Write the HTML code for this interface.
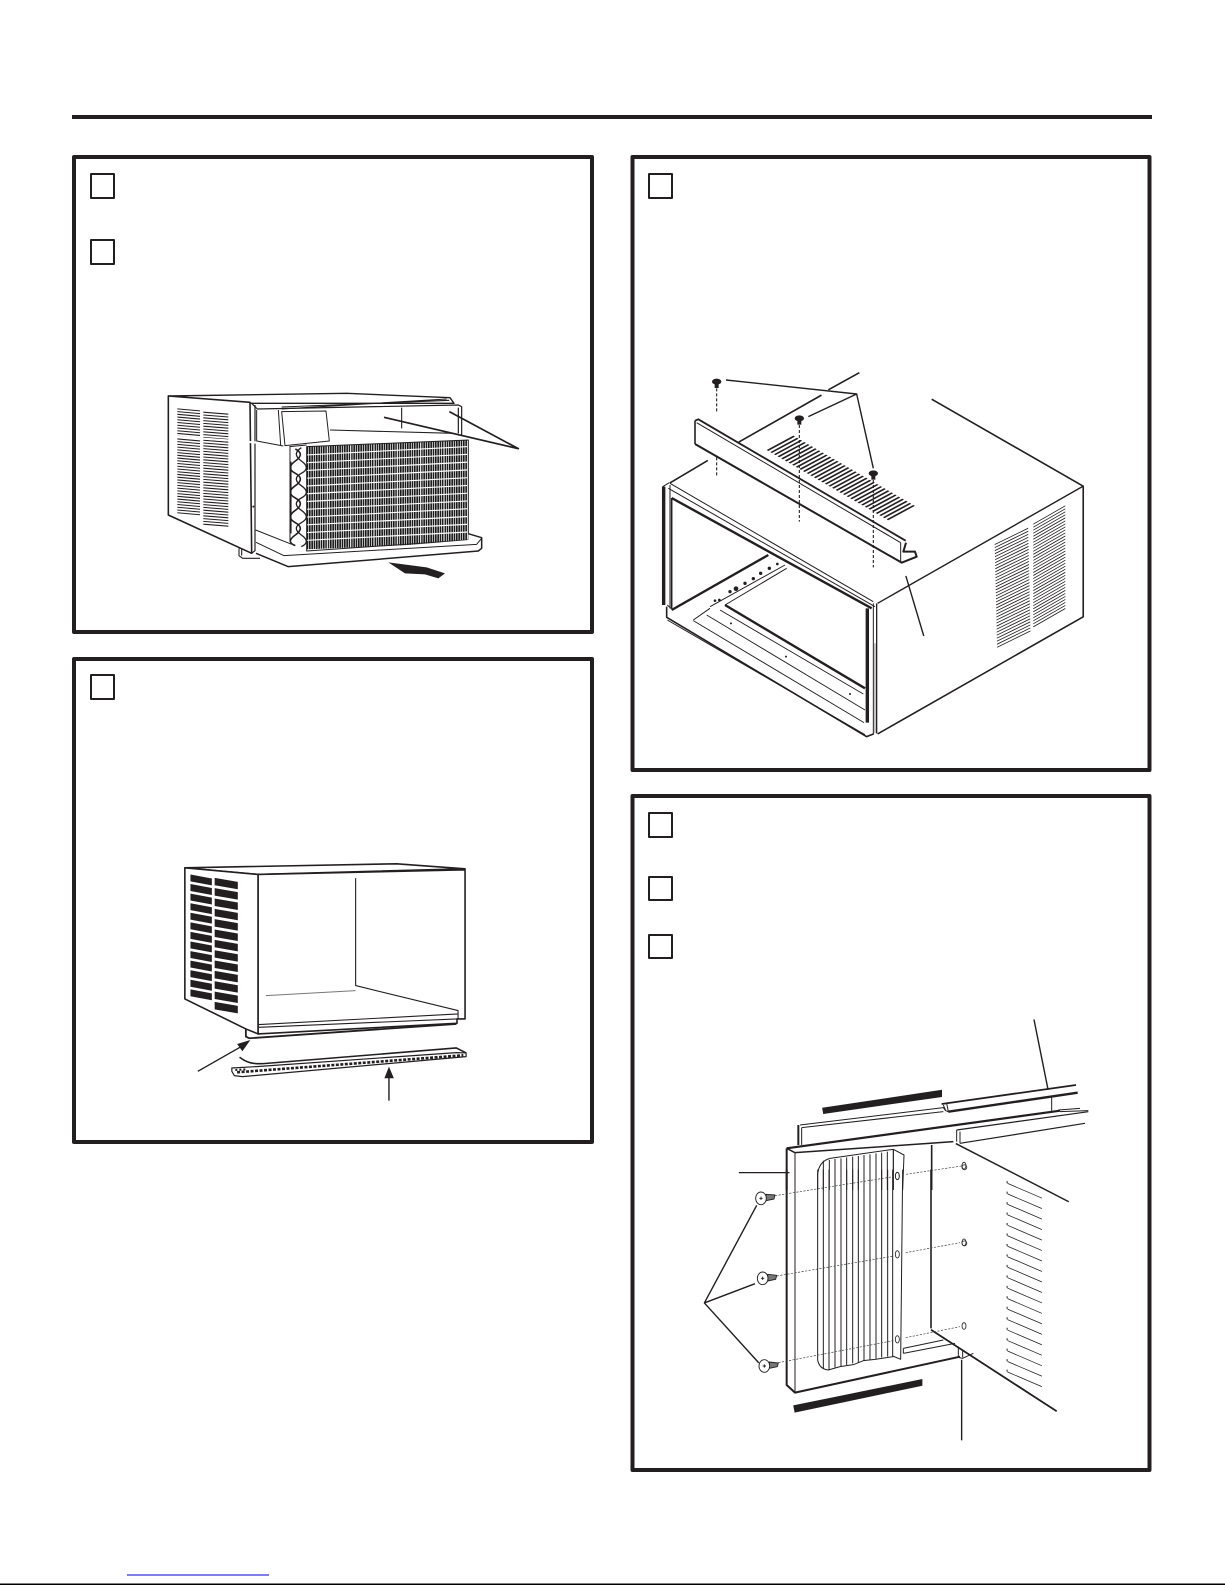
<!DOCTYPE html>
<html><head><meta charset="utf-8"><style>
html,body{margin:0;padding:0;background:#fff;width:1225px;height:1585px;overflow:hidden}
svg{display:block;position:absolute;left:0;top:0}
g *{vector-effect:non-scaling-stroke}
g path,g line,g polygon,g rect,g ellipse,g circle{stroke-linejoin:round}
.h{vector-effect:none;fill:none}
.w{fill:#fff}
.k{fill:#231f20;stroke:none}
</style></head><body>
<svg width="1225" height="1585" viewBox="0 0 1225 1585" fill="none" stroke="#231f20" stroke-width="1.2">
<rect x="72" y="115" width="1080" height="4" fill="#231f20" stroke="none"/>
<g stroke-width="4">
<rect x="74" y="157" width="518" height="475"/>
<rect x="74" y="659" width="518" height="483"/>
<rect x="632.5" y="157" width="517" height="613"/>
<rect x="632.5" y="796" width="517" height="674"/>
</g>
<g stroke-width="2">
<rect x="91" y="174" width="23" height="24"/>
<rect x="91" y="240" width="23" height="24"/>
<rect x="91" y="675" width="23" height="24"/>
<rect x="649" y="174" width="23" height="24"/>
<rect x="649" y="813" width="23" height="24"/>
<rect x="649" y="877" width="23" height="23"/>
<rect x="649" y="935" width="23" height="23"/>
</g>
<rect x="127" y="1574.5" width="142" height="1" fill="#0000cc" stroke="none"/>
<rect x="0" y="1583.5" width="1225" height="1.5" fill="#000" stroke="none"/>

<!-- Drawing 1 -->
<g transform="translate(160 385) scale(.33333)">
<path class="w" d="M25 33L560 25L870 38L882 55L275 55Z" stroke-width="1.4"/>
<path class="w" d="M25 33L270 52L275 505L25 390Z" stroke-width="1.6"/>
<path d="M285 60V497L275 505" stroke-width="1.2"/>
<path class="h" transform="matrix(0 8.2 68 6 52 70)" d="M0 .5H39" stroke="#231f20" stroke-width="1" stroke-dasharray=".38 .62"/>
<path class="h" transform="matrix(0 8.4 75 6 130 80)" d="M0 .5H41" stroke="#231f20" stroke-width="1" stroke-dasharray=".38 .62"/>
<path d="M50 155L390 180" stroke="#fff" stroke-width="2.2"/>
<path d="M275 55L292 72L895 60L905 65V150M895 68V145" stroke-width="1.2"/>
<path d="M365 72L860 42M365 66L868 46" stroke-width="1.1"/>
<path d="M290 75V168L370 183M355 75L362 180" stroke-width="1"/>
<path class="w" d="M365 80L498 78L508 168L375 182Z" stroke-width="1"/>
<path d="M510 135L880 145M725 68V130" stroke-width="1.1"/>
<path d="M390 185V470M388 185L440 180" stroke-width="1"/>
<path class="w" d="M440 185L925 165V465L440 498Z" stroke="none"/>
<path class="h" transform="matrix(7 -.29 0 308 440 185)" d="M0 .5H69" stroke="#1a1a1a" stroke-width="1" stroke-dasharray=".7 .3"/>
<path class="h" transform="matrix(0 23.3 485 -25 440 208)" d="M0 .5H12" stroke="#fff" stroke-width="1" stroke-dasharray=".15 .85"/>
<path class="h" transform="matrix(70 -3 0 308 500 182)" d="M0 .5H6" stroke="#fff" stroke-opacity=".55" stroke-width="1" stroke-dasharray=".06 .94"/>
<path d="M440 185L925 165V465L440 498Z" stroke-width="1"/>
<path d="M406 192Q436 207 406 228T406 265T406 302T406 339T406 376T406 413T406 450T406 482" stroke-width="1.6"/>
<path d="M424 188Q394 207 424 228T424 265T424 302T424 339T424 376T424 413T424 450T424 485" stroke-width="1.3"/>
<path d="M392 230V445" stroke-width="1.8"/>
<path d="M287 435L395 478" stroke-width="1"/>
<path class="w" d="M288 472L372 512L925 465L925 445L965 458V490L955 498L385 545L288 505Z" stroke="none"/>
<path d="M925 446L965 458V490L955 498L385 545L288 505" stroke-width="1.5"/>
<path d="M288 472L372 512L950 478L965 460" stroke-width="1"/>
<path d="M237 490V512L248 520H300M245 492V512" stroke-width="1.1"/>
<circle cx="280" cy="365" r="3" class="k"/>
<path d="M672 97L1075 191L868 80" stroke-width="1.7"/>
<path class="k" d="M685 532L800 547L855 565L835 580L795 568L735 565Z"/>
</g>

<!-- Drawing 2 -->
<g transform="translate(60 650.3) scale(.3507 .3336)">
<path class="w" d="M356 652L960 640L1155 655L565 672Z" stroke-width="1.6"/>
<path class="w" d="M356 652L565 672V1150L530 1135L356 1045Z" stroke-width="1.6"/>
<path class="w" d="M565 672L1155 658V1105H1132V1118L565 1150Z" stroke-width="1.6"/>
<path d="M843 683V1005L1135 1080V1105M567 1122L1135 1090L1135 1080M567 1130L1132 1105" stroke-width="1.1"/>
<path d="M587 1035L843 1020" stroke="#777" stroke-width="1"/>
<path class="h" transform="matrix(0 28.7 61 12 372 672)" d="M0 .5H13" stroke="#231f20" stroke-width="1" stroke-dasharray=".72 .28"/>
<path class="h" transform="matrix(0 31 66 12 441 682)" d="M0 .5H13" stroke="#231f20" stroke-width="1" stroke-dasharray=".72 .28"/>
<path d="M530 1135V1158L540 1163L1130 1120" stroke-width="1.8"/>
<path d="M393 1262L525 1183" stroke-width="1.4"/>
<path class="k" d="M543 1168L505 1180L520 1202Z"/>
<path d="M938 1350V1280" stroke-width="1.4"/>
<path class="k" d="M938 1248L925 1283H952Z"/>
<path d="M512 1220C535 1238 550 1240 580 1239L1130 1192L1158 1207" stroke-width="1.6"/>
<path class="w" d="M490 1252L560 1248L1130 1206L1158 1207V1218L520 1278L497 1275L490 1262Z" stroke-width="1.2"/>
<path d="M505 1265L1150 1214" stroke-width="2.6" stroke-dasharray="3 1.5"/>
<path d="M500 1258L530 1256" stroke-width="2" stroke-dasharray="2 2"/>
</g>

<!-- Drawing 3: cabinet -->
<g transform="translate(620 140) scale(.3444 .4082)">
<path d="M695 570L605 612M585 625L345 740M255 785L145 840M905 635L1345 848V1168L748 1455" stroke-width="1.6"/>
<path d="M748 1135L1345 848" stroke-width="1.4"/>
<path class="h" transform="matrix(.2 7.4 97 -40 1088 990)" d="M0 .5H35" stroke="#231f20" stroke-width="1" stroke-dasharray=".3 .7"/>
<path class="h" transform="matrix(0 7.4 93 -45 1200 940)" d="M0 .5H35" stroke="#231f20" stroke-width="1" stroke-dasharray=".3 .7"/>
<path d="M830 1068L882 1215" stroke-width="1.4"/>
</g>
<!-- Drawing 3: rail, vent, screws -->
<g transform="translate(660 370) scale(.33333)">
<path class="h" transform="matrix(10.9 6.3 80 -43 320 240)" d="M0 .5H34" stroke="#231f20" stroke-width="1" stroke-dasharray=".45 .55"/>
<path class="w" d="M105 152L115 148L738 518L728 545H765L770 560L725 578L105 222Z" stroke="none"/>
<path d="M105 152L115 148L737 512" stroke-width="1.8"/>
<path d="M110 158L722 518" stroke-width="1"/>
<path d="M105 152V222" stroke-width="1.6"/>
<path d="M105 222L725 578L770 560L765 545H730L738 518" stroke-width="2"/>
<path d="M722 518V576" stroke-width="1"/>
<path d="M170 55V130M170 262V318M418 165V455M640 330V592" stroke-width="1.1" stroke-dasharray="3 2"/>
<g class="k"><ellipse cx="170" cy="35" rx="14" ry="9"/><rect x="164" y="40" width="12" height="14"/><ellipse cx="418" cy="145" rx="14" ry="9"/><rect x="412" y="150" width="12" height="14"/><ellipse cx="640" cy="310" rx="14" ry="9"/><rect x="634" y="315" width="12" height="14"/></g>
<path d="M198 30L590 72L640 295M445 140L590 72" stroke-width="1.4"/>
</g>
<!-- Drawing 3: front opening -->
<g transform="translate(660 540) scale(.33333)">
<path d="M11 -160V195" stroke-width="3.4"/>
<path d="M8 -160L28 -172M30 -165V205M22 195L38 210" stroke-width="1"/>
<path d="M35 -126V205" stroke-width="1.6"/>
<path d="M30 -170L640 185M25 -155L645 200" stroke-width="1"/>
<path d="M35 -126L635 205" stroke-width="2.4"/>
<path d="M35 210L325 45" stroke-width="2.4"/>
<path d="M20 200V232L620 590L640 582" stroke-width="1.6"/>
<path d="M22 240L615 584" stroke-width="1"/>
<path d="M150 200L375 75M195 195L380 85M100 240L150 205" stroke-width="1"/>
<path d="M195 195L615 445" stroke-width="2.4"/>
<path d="M622 205V548" stroke-width="3.4"/>
<path d="M180 210L610 462M140 225L615 510M100 242L612 548" stroke-width=".9"/>
<path d="M640 190V585" stroke-width="1"/>
<path d="M650 190V580" stroke-width="1.3"/>
<path d="M645 310V580" stroke="#888" stroke-width="1"/>
<g class="k"><circle cx="165" cy="182" r="4"/><circle cx="178" cy="180" r="4"/><circle cx="210" cy="155" r="5"/><circle cx="228" cy="146" r="7"/><circle cx="255" cy="130" r="5"/><circle cx="280" cy="116" r="5"/><circle cx="302" cy="100" r="5"/><circle cx="328" cy="85" r="5"/><circle cx="352" cy="72" r="4"/><circle cx="213" cy="250" r="3"/><circle cx="378" cy="350" r="3"/><circle cx="570" cy="462" r="3"/></g>
</g>

<!-- Drawing 4: bars, cabinet side -->
<g transform="translate(620 780) scale(.3444 .4477)">
<path class="k" d="M587 732L935 692V708L590 746Z"/>
<path class="k" d="M503 1397L878 1338V1353L507 1413Z"/>
<path d="M1202 535L1243 692" stroke-width="1.4"/>
<path d="M975 812L1303 942" stroke-width="1.5"/>
<path d="M903 1228L1268 1410" stroke-width="1.8"/>
<path d="M992 1295V1475" stroke-width="1.4"/>
<path class="h" transform="matrix(0 23.4 100 33 1125 900)" d="M0 .5H19" stroke="#231f20" stroke-width="1" stroke-dasharray=".08 .92"/>
<path d="M1124 896V1326" stroke-width="1" stroke-dasharray="2 8.47"/>
<ellipse cx="1000" cy="865" rx="7" ry="5.5" stroke-width=".8"/><ellipse cx="1000" cy="1035" rx="7" ry="5.5" stroke-width=".8"/>
<path d="M345 877H492" stroke-width="1.2"/>
<path d="M397 950L245 1168L392 1125M245 1168L403 1302" stroke-width="1.4"/>
</g>
<!-- Drawing 4: top rails -->
<g transform="translate(780 1080) scale(.33333)">
<path d="M485 72L888 15" stroke-width="1.8"/>
<path d="M505 95L893 38" stroke-width="2.4"/>
<path d="M485 72L500 70L505 95L497 92L490 75" stroke-width="1"/>
<path d="M60 135L490 83L497 92M65 143L490 95" stroke-width="1"/>
<path d="M55 135V195" stroke-width="2"/>
<path d="M65 143V195" stroke-width="1"/>
<path d="M815 50V92" stroke-width="1"/>
<path d="M20 205L840 92" stroke-width="2.2"/>
<path d="M840 95L925 92M835 90L900 85" stroke-width="1"/>
<path d="M530 150L925 95" stroke-width="1.2"/>
<path d="M540 190L915 130" stroke-width="1.2"/>
<path d="M530 150V185M540 155V190" stroke-width="1"/>
<path d="M20 205L45 218L520 185" stroke-width="1.5"/>
<path d="M20 205V330" stroke-width="2"/>
<path d="M45 218V330" stroke-width="1"/>
<path d="M455 195V330" stroke-width="1.6"/>
<path d="M340 208L150 235Q115 245 113 285V330" stroke-width="1"/>
<path d="M340 208L372 225L368 330" stroke-width="1"/>
<path d="M340 208V330" stroke-width="1.2"/>
<path d="M130 242V330M148 240V330M165 237V330M183 235V330M200 232V330M218 230V330M235 228V330M252 225V330M270 223V330M288 220V330M305 218V330M322 215V330" stroke-width="1"/>
<ellipse cx="352" cy="288" rx="6" ry="11" stroke-width=".8"/>
<path d="M378 283L545 258" stroke="#444" stroke-width=".7" stroke-dasharray="2.2 1.4"/>
<ellipse cx="552" cy="257" rx="6" ry="10" stroke-width=".8"/>
</g>
<!-- Drawing 4: lower panel -->
<g transform="translate(740 1170) scale(.33333)">
<path d="M140 -1V645L165 668L660 560" stroke-width="2"/>
<path d="M165 -1V668" stroke-width="1"/>
<path d="M233 -1V570Q238 597 265 600L300 590L340 584L370 572L405 568L460 560" stroke-width="1"/>
<path d="M250 -1V597M267 -1V599M285 -1V592M303 -1V590M320 -1V585M338 -1V580M355 -1V578M372 -1V572M390 -1V570M408 -1V566M425 -1V562M443 -1V560" stroke-width="1"/>
<path d="M458 -1V558L482 568L488 -1" stroke-width="1"/>
<path d="M490 535L610 510M490 550L645 520M490 535V550" stroke-width="1"/>
<path d="M573 -1V475" stroke-width="1.6"/>
<path d="M655 530V562L668 565L700 550M668 540V562" stroke-width="1"/>
<ellipse cx="472" cy="18" rx="6" ry="11" stroke-width=".8"/><ellipse cx="472" cy="253" rx="6" ry="11" stroke-width=".8"/><ellipse cx="472" cy="508" rx="6" ry="11" stroke-width=".8"/>
<ellipse cx="672" cy="217" rx="6" ry="10" stroke-width=".8"/><ellipse cx="672" cy="468" rx="6" ry="10" stroke-width=".8"/>
<g stroke="#444" stroke-width=".7" stroke-dasharray="2.2 1.4">
<path d="M497 248L660 218M497 503L660 470M105 77L460 20M110 318L462 258M115 578L460 512"/>
</g>
<g stroke-width=".9">
<path d="M78 73L105 75L102 87L78 92Z" fill="#777"/><ellipse cx="63" cy="85" rx="16" ry="19" fill="#fff"/><path d="M58 85H68M63 80V90"/>
<path d="M83 313L110 316L107 328L83 333Z" fill="#777"/><ellipse cx="68" cy="325" rx="16" ry="19" fill="#fff"/><path d="M63 325H73M68 320V330"/>
<path d="M88 576L115 579L112 590L88 595Z" fill="#777"/><ellipse cx="73" cy="588" rx="16" ry="19" fill="#fff"/><path d="M68 588H78M73 583V593"/>
</g>
</g>
</svg>
</body></html>
